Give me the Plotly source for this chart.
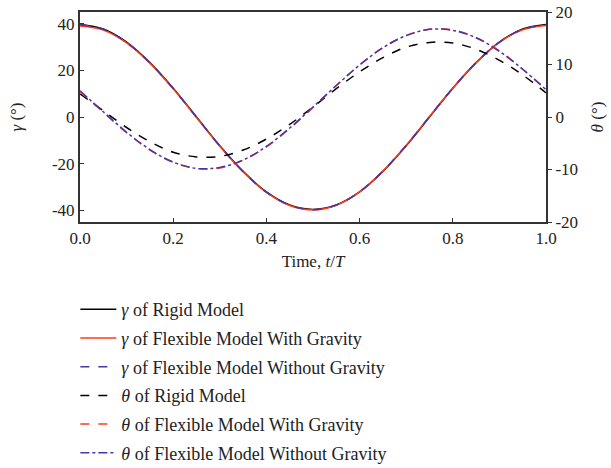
import plotly.graph_objects as go

t = [0.0, 0.05, 0.1, 0.15, 0.2, 0.25, 0.3, 0.35, 0.4, 0.45, 0.5,
     0.55, 0.6, 0.65, 0.7, 0.75, 0.8, 0.85, 0.9, 0.95, 1.0]

gamma_rigid = [39.6, 37.7, 32.1, 23.3, 12.3, 0.0, -12.3, -23.3, -32.1, -37.7, -39.6,
               -37.7, -32.1, -23.3, -12.3, 0.0, 12.3, 23.3, 32.1, 37.7, 39.6]
gamma_flex_grav = [39.0, 37.3, 31.8, 23.1, 12.1, -0.2, -12.5, -23.5, -32.3, -37.9, -39.8,
                   -37.8, -32.1, -23.2, -12.1, 0.2, 12.4, 23.3, 32.0, 37.4, 39.2]
gamma_flex_nograv = [39.5, 37.6, 32.0, 23.2, 12.2, -0.1, -12.4, -23.4, -32.2, -37.8, -39.7,
                     -37.7, -32.1, -23.2, -12.2, 0.1, 12.3, 23.3, 32.1, 37.6, 39.5]

theta_rigid = [4.4, 1.2, -2.0, -4.7, -6.7, -7.6, -7.5, -6.3, -4.2, -1.4, 1.9,
               5.4, 8.6, 11.3, 13.3, 14.2, 14.1, 12.9, 10.8, 8.0, 4.6]
theta_flex_grav = [4.9, 0.9, -3.0, -6.3, -8.6, -9.8, -9.7, -8.2, -5.7, -2.2, 1.8,
                   6.0, 9.9, 13.2, 15.5, 16.7, 16.6, 15.1, 12.6, 9.1, 5.3]
theta_flex_nograv = [5.0, 1.0, -2.9, -6.2, -8.6, -9.8, -9.6, -8.2, -5.6, -2.1, 1.9,
                     6.0, 9.9, 13.2, 15.5, 16.7, 16.5, 15.1, 12.5, 9.1, 5.2]

x_ticks = [0.0, 0.2, 0.4, 0.6, 0.8, 1.0]
x_ticklabels = ["0.0", "0.2", "0.4", "0.6", "0.8", "1.0"]
y_ticks = [-40, -20, 0, 20, 40]
y_ticklabels = ["-40", "-20", "0", "20", "40"]
y2_ticks = [-20, -10, 0, 10, 20]
y2_ticklabels = ["-20", "-10", "0", "10", "20"]

names = [
    "<i>γ</i> of Rigid Model",
    "<i>γ</i> of Flexible Model With Gravity",
    "<i>γ</i> of Flexible Model Without Gravity",
    "<i>θ</i> of Rigid Model",
    "<i>θ</i> of Flexible Model With Gravity",
    "<i>θ</i> of Flexible Model Without Gravity",
]

BLACK = "#000000"
RED = "#ff3a1a"
BLUE = "#4a35a8"
FONT = "Liberation Serif"

fig = go.Figure()
series = [
    (gamma_rigid, BLACK, "solid", "y"),
    (gamma_flex_grav, RED, "solid", "y"),
    (gamma_flex_nograv, BLUE, "dash", "y"),
    (theta_rigid, BLACK, "dash", "y2"),
    (theta_flex_grav, RED, "dash", "y2"),
    (theta_flex_nograv, BLUE, "dashdot", "y2"),
]
for i, (vals, col, dash, ax) in enumerate(series):
    fig.add_trace(go.Scatter(
        x=t, y=vals, mode="lines", name=names[i], yaxis=ax,
        legendgroup=f"g{i}",
        line=dict(color=col, width=1.5, dash=dash, shape="spline"),
    ))

axcol = "#333333"
fig.update_layout(
    width=611, height=468,
    margin=dict(l=80, r=65, t=12, b=246),
    paper_bgcolor="white", plot_bgcolor="white",
    font=dict(family=FONT, size=17, color="#222222"),
    showlegend=True,
    legend=dict(
        x=-0.01, xanchor="left", yref="container", y=0.378, yanchor="top",
        font=dict(family=FONT, size=18, color="#222222"),
        tracegroupgap=2.3, itemwidth=36, bgcolor="rgba(0,0,0,0)",
    ),
    xaxis=dict(
        range=[0, 1], tickvals=x_ticks, ticktext=x_ticklabels,
        ticks="inside", ticklen=4, tickcolor=axcol,
        showline=True, linecolor=axcol, linewidth=2, mirror=True,
        showgrid=False, zeroline=False, automargin=False,
        title=dict(text="Time, <i>t</i>/<i>T</i>", standoff=8,
                   font=dict(family=FONT, size=17)),
    ),
    yaxis=dict(
        range=[-45, 45], tickvals=y_ticks, ticktext=y_ticklabels,
        ticks="inside", ticklen=4, tickcolor=axcol,
        showline=True, linecolor=axcol, linewidth=2,
        showgrid=False, zeroline=False, automargin=False,
        title=dict(text="<i>γ</i> (°)", standoff=25,
                   font=dict(family=FONT, size=17)),
    ),
    yaxis2=dict(
        range=[-20, 20], tickvals=y2_ticks, ticktext=y2_ticklabels,
        overlaying="y", side="right",
        ticks="outside", ticklen=4, tickcolor=axcol,
        showline=True, linecolor=axcol, linewidth=2,
        showgrid=False, zeroline=False, automargin=False,
        title=dict(text="<i>θ</i> (°)", standoff=14,
                   font=dict(family=FONT, size=17)),
    ),
)

fig.write_html("out.html")
